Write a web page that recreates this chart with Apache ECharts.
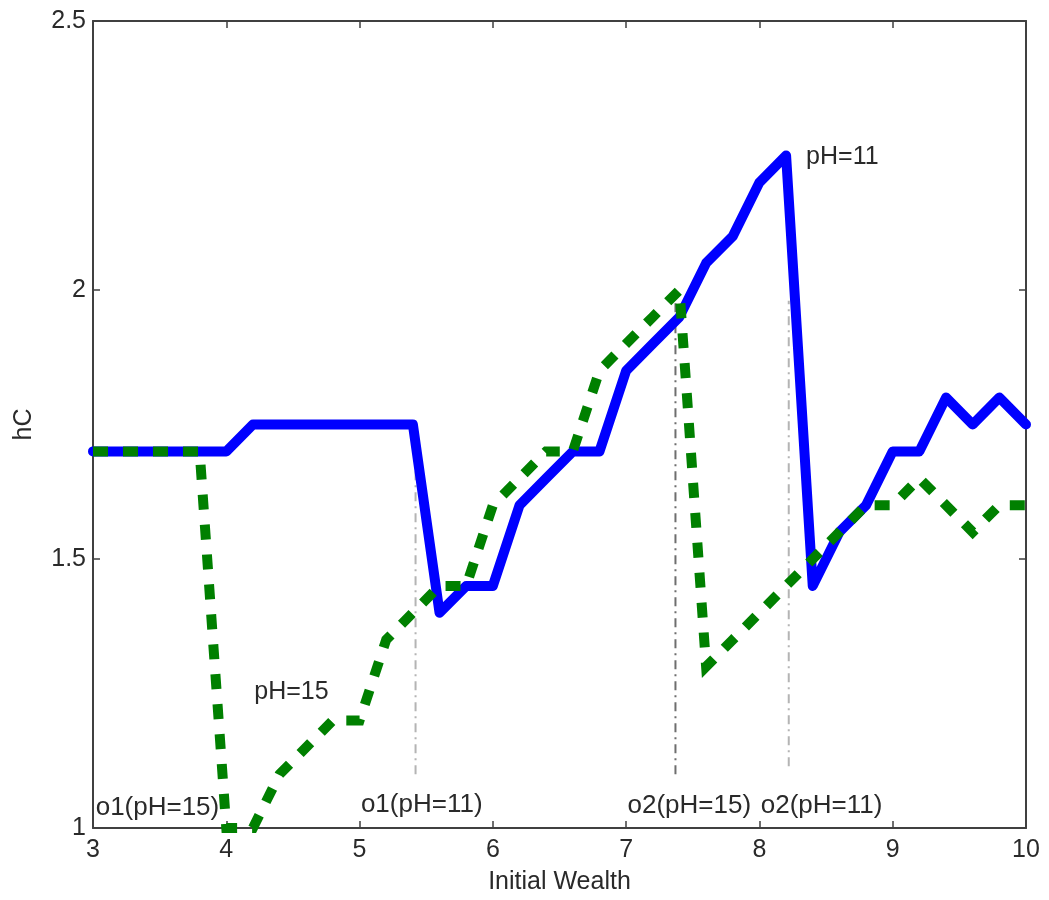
<!DOCTYPE html>
<html>
<head>
<meta charset="utf-8">
<script src="https://cdn.jsdelivr.net/npm/echarts@6/dist/echarts.min.js"></script>
<style>
html,body{margin:0;padding:0;background:#fff;}
#chart{width:1049px;height:900px;}
</style>
</head>
<body>
<div id="chart"></div>
<script>
// ---- data ----
var wealth = [3.0,3.2,3.4,3.6,3.8,4.0,4.2,4.4,4.6,4.8,5.0,5.2,5.4,5.6,5.8,6.0,6.2,6.4,6.6,6.8,7.0,7.2,7.4,7.6,7.8,8.0,8.2,8.4,8.6,8.8,9.0,9.2,9.4,9.6,9.8,10.0];
var hC_pH11 = [1.7,1.7,1.7,1.7,1.7,1.7,1.75,1.75,1.75,1.75,1.75,1.75,1.75,1.4,1.45,1.45,1.6,1.65,1.7,1.7,1.85,1.9,1.95,2.05,2.1,2.2,2.25,1.45,1.55,1.6,1.7,1.7,1.8,1.75,1.8,1.75];
var hC_pH15 = [1.7,1.7,1.7,1.7,1.7,1.0,1.0,1.1,1.15,1.2,1.2,1.35,1.4,1.45,1.45,1.6,1.65,1.7,1.7,1.85,1.9,1.95,2.0,1.3,1.35,1.4,1.45,1.5,1.55,1.6,1.6,1.65,1.6,1.55,1.6,1.6];

// vertical threshold markers: x, yFrom, yTo
var markerX = [5.42, 7.37, 8.22];
var markerYFrom = [1.1, 1.1, 1.115];
var markerYTo = [1.72, 1.98, 1.98];

// text annotations
var noteText = ['o1(pH=15)','o1(pH=11)','o2(pH=15)','o2(pH=11)','pH=15','pH=11'];
var noteX = [3.02, 5.01, 7.01, 8.01, 4.21, 8.35];
var noteY = [1.037, 1.043, 1.041, 1.041, 1.252, 2.247];

var xTicks = {min:3, max:10, interval:1};
var yTicks = {min:1, max:2.5, interval:0.5};

// ---- styles ----
var FONT = 'Liberation Sans, Arial, sans-serif';
var AXC = '#404040';
var TXT = '#2a2a2a';
var noteFontSize = [26, 26, 26, 26, 25, 25];
var markerStyles = [
  {color:'#b4b4b4', type:[9,5,2,5]},
  {color:'#6e6e6e', type:[9,5,2,5]},
  {color:'#b4b4b4', type:[9,5,2,5]}
];

// ---- build ----
function pairs(xs, ys){ return xs.map(function(x,i){ return [x, ys[i]]; }); }

var series = [];
markerX.forEach(function(x,i){
  series.push({
    type:'line', name:'marker'+i, silent:true, symbol:'none', z:1,
    data:[[x, markerYFrom[i]],[x, markerYTo[i]]],
    lineStyle:{color:markerStyles[i].color, width:2, type:markerStyles[i].type}
  });
});
series.push({
  type:'line', name:'pH=11', symbol:'none', z:3,
  data:pairs(wealth, hC_pH11),
  lineStyle:{color:'#0000ff', width:10, join:'round', cap:'round'}
});
series.push({
  type:'line', name:'pH=15', symbol:'none', z:4,
  data:pairs(wealth, hC_pH15),
  lineStyle:{color:'#008000', width:10, type:[15,15], cap:'butt', join:'miter'}
});
series.push({
  type:'scatter', name:'notes', silent:true, z:5,
  symbolSize:0, itemStyle:{color:TXT, opacity:1},
  data:noteText.map(function(t,i){
    return {value:[noteX[i], noteY[i]], name:t, label:{fontSize:noteFontSize[i]}};
  }),
  label:{show:true, position:'right', distance:0, formatter:function(p){return p.name;},
         fontFamily:FONT, fontSize:25, color:TXT, opacity:1, textBorderWidth:0}
});

function xAx(pos, showLabel){
  return {
    type:'value', position:pos, min:xTicks.min, max:xTicks.max, interval:xTicks.interval,
    name: showLabel ? 'Initial Wealth' : '', nameLocation:'middle', nameGap:42,
    nameTextStyle:{fontFamily:FONT, fontSize:25, color:TXT},
    axisLine:{show:true, onZero:false, lineStyle:{color:AXC, width:2}},
    axisTick:{show:true, inside:true, length:7, lineStyle:{color:AXC, width:1.5}},
    axisLabel:{show:showLabel, margin:10, fontFamily:FONT, fontSize:25, color:TXT},
    splitLine:{show:false}
  };
}
function yAx(pos, showLabel){
  return {
    type:'value', position:pos, min:yTicks.min, max:yTicks.max, interval:yTicks.interval,
    name: showLabel ? 'hC' : '', nameLocation:'middle', nameGap:56,
    nameTextStyle:{fontFamily:FONT, fontSize:25, color:TXT},
    axisLine:{show:true, onZero:false, lineStyle:{color:AXC, width:2}},
    axisTick:{show:true, inside:true, length:7, lineStyle:{color:AXC, width:1.5}},
    axisLabel:{show:showLabel, margin:7, fontFamily:FONT, fontSize:25, color:TXT},
    splitLine:{show:false}
  };
}

var chart = echarts.init(document.getElementById('chart'), null, {renderer:'canvas'});
chart.setOption({
  animation:false,
  backgroundColor:'#ffffff',
  grid:{left:93, right:23, top:21, bottom:71, containLabel:false},
  xAxis:[xAx('bottom', true), xAx('top', false)],
  yAxis:[yAx('left', true), yAx('right', false)],
  series:series
});
</script>
</body>
</html>
